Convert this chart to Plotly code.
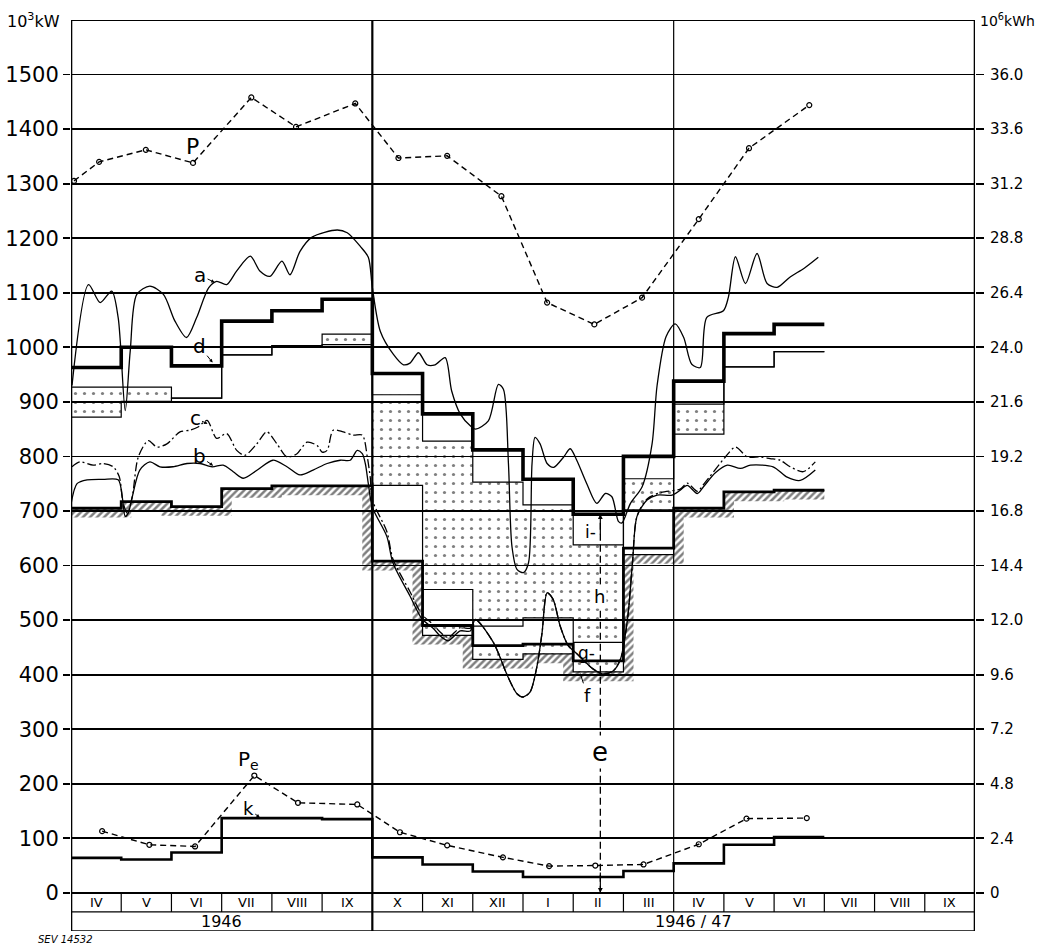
import plotly.graph_objects as go

# ------------------------------------------------------------------ data
month_labels = ["IV", "V", "VI", "VII", "VIII", "IX", "X", "XI", "XII",
                "I", "II", "III", "IV", "V", "VI", "VII", "VIII", "IX"]
year_labels = ["1946", "1946 / 47"]
year_centers = [3.0, 12.4]
kw_ticks = [0, 100, 200, 300, 400, 500, 600, 700, 800, 900, 1000, 1100, 1200, 1300, 1400, 1500]
kwh_ticktext = ["0", "2.4", "4.8", "7.2", "9.6", "12.0", "14.4", "16.8", "19.2",
                "21.6", "24.0", "26.4", "28.8", "31.2", "33.6", "36.0"]
kwh_per_kw = 0.024

# monthly step levels (10^3 kW), IV 1946 ... VI 1947
d_levels = [963, 1000, 966, 1048, 1067, 1088, 952, 878, 812, 758, 694, 800, 938, 1025, 1042]
i_bottom = [927, 927, 907, 986, 1003, 1024, 913, 828, 753, 711, 638, 759, 896, 964, 992]
h_bottom = [872, 901, 907, 986, 1003, 1005, 747, 556, 489, 504, 459, 702, 841, 964, 992]
g_bottom = [705, 717, 708, 741, 746, 746, 608, 490, 453, 456, 425, 632, 705, 735, 738]
f_bottom = [705, 717, 708, 741, 746, 746, 608, 472, 428, 438, 405, 620, 705, 735, 738]
k_levels = [64, 61, 74, 137, 137, 135, 65, 52, 39, 29, 29, 40, 54, 88, 102]

# monthly peaks (month position, 10^3 kW)
P_month = [0.06, 0.56, 1.49, 2.43, 3.59, 4.48, 5.66, 6.52, 7.49, 8.57, 9.48, 10.42, 11.37, 12.5, 13.5, 14.7]
P_value = [1305, 1340, 1362, 1338, 1458, 1404, 1447, 1347, 1351, 1277, 1082, 1042, 1091, 1235, 1365, 1444]
Pe_month = [0.62, 1.56, 2.47, 3.65, 4.52, 5.7, 6.55, 7.49, 8.6, 9.52, 10.44, 11.4, 12.5, 13.45, 14.65]
Pe_value = [113, 88, 85, 215, 165, 162, 111, 87, 65, 49, 50, 52, 89, 136, 137]

# daily curves
a_month = [0.02, 0.35, 0.58, 0.81, 0.94, 1.08, 1.18, 1.31, 1.57, 1.84, 2.07, 2.30, 2.50, 2.74, 2.90,
           3.10, 3.30, 3.57, 3.76, 3.96, 4.20, 4.36, 4.56, 4.80, 5.30, 5.50, 5.76, 5.92, 6.0,
           6.16, 6.42, 6.62, 6.75, 6.92, 7.09, 7.25, 7.45, 7.58, 7.75, 7.95, 8.05, 8.31, 8.51,
           8.61, 8.71, 8.78, 8.88, 9.01, 9.11, 9.18, 9.24, 9.34, 9.48, 9.61, 9.81, 9.94, 10.07,
           10.27, 10.47, 10.64, 10.77, 10.90, 10.97, 11.14, 11.37, 11.57, 11.67, 11.85, 12.03,
           12.20, 12.36, 12.53, 12.66, 12.99, 13.09, 13.23, 13.43, 13.66, 13.86, 14.06, 14.32,
           14.6, 14.88]
a_value = [930, 1115, 1082, 1103, 1054, 884, 994, 1097, 1112, 1097, 1048, 1018, 1054, 1109, 1121,
           1115, 1140, 1167, 1140, 1130, 1158, 1133, 1176, 1202, 1215, 1210, 1185, 1165, 1110,
           1029, 987, 968, 971, 990, 968, 968, 981, 920, 878, 856, 850, 865, 932,
           923, 787, 635, 593, 587, 605, 787, 835, 823, 787, 780, 799, 814, 793,
           750, 714, 732, 726, 681, 678, 714, 744, 823, 930, 1020, 1043,
           1018, 969, 963, 1055, 1067, 1092, 1166, 1117, 1172, 1117, 1110, 1129,
           1145, 1165]

b_month = [0.0, 0.12, 0.32, 0.64, 0.94, 1.02, 1.08, 1.14, 1.22, 1.37, 1.57, 1.77, 2.03, 2.31,
           2.57, 2.81, 3.03, 3.23, 3.43, 3.71, 4.02, 4.30, 4.56, 4.82, 5.10, 5.36, 5.56, 5.70,
           5.80, 5.86, 5.92, 6.0, 6.29, 6.41, 6.75, 6.99, 7.21, 7.35, 7.51, 7.75, 7.95, 8.05,
           8.41, 8.69, 8.88, 9.00, 9.14, 9.28, 9.38, 9.48, 9.60, 9.74, 9.90, 10.04, 10.40, 10.60,
           10.80, 10.94, 11.08, 11.18, 11.27, 11.47, 11.67, 11.97, 12.13, 12.27, 12.47, 12.59,
           12.83, 13.07, 13.33, 13.53, 13.98, 14.26, 14.52, 14.82]
b_value = [712, 750, 757, 758, 757, 726, 690, 696, 726, 775, 790, 781, 781, 787,
           787, 781, 784, 772, 760, 775, 793, 781, 766, 775, 787, 793, 793, 811,
           805, 787, 750, 707, 653, 605, 544, 502, 485, 471, 462, 480, 480, 501,
           459, 398, 365, 359, 368, 416, 477, 550, 538, 489, 453, 441, 410, 401,
           407, 428, 501, 605, 690, 720, 729, 729, 738, 747, 732, 744,
           770, 784, 778, 784, 781, 762, 756, 775]

c_month = [0.02, 0.18, 0.44, 0.64, 0.84, 0.96, 1.04, 1.12, 1.22, 1.34, 1.54, 1.71, 1.91, 2.17,
           2.37, 2.53, 2.71, 2.90, 3.10, 3.30, 3.46, 3.70, 3.90, 4.10, 4.30, 4.50, 4.70, 4.90,
           5.0, 5.10, 5.22, 5.42, 5.62, 5.80, 5.90, 5.96, 6.0, 6.29, 6.41, 6.75, 6.99, 7.21,
           7.35, 7.51, 7.75, 7.95, 8.05, 8.41, 8.69, 8.88, 9.00, 9.14, 9.28, 9.38, 9.48, 9.60,
           9.74, 9.90, 10.04, 10.40, 10.60, 10.80, 10.94, 11.08, 11.18, 11.27, 11.47, 11.75,
           12.13, 12.27, 12.47, 12.59, 13.03, 13.23, 13.47, 13.73, 13.92, 14.12, 14.32, 14.58,
           14.82]
c_value = [781, 790, 784, 787, 781, 763, 714, 696, 726, 799, 829, 817, 823, 845,
           848, 854, 866, 833, 842, 811, 802, 823, 845, 823, 799, 805, 826, 820,
           808, 811, 848, 845, 839, 839, 799, 760, 720, 662, 612, 552, 510, 492,
           478, 468, 486, 485, 501, 459, 398, 365, 359, 368, 416, 477, 550, 538,
           489, 453, 441, 410, 401, 407, 428, 501, 605, 690, 722, 734,
           740, 751, 736, 748, 799, 817, 799, 799, 796, 793, 781, 772,
           790]

# ------------------------------------------------------------------ helpers
FONT = "DejaVu Sans"
n_steps = len(d_levels)


def step_xy(levels):
    xs, ys = [], []
    for i, v in enumerate(levels):
        xs += [i, i + 1]
        ys += [v, v]
    return xs, ys


def band(upper, lower):
    ux, uy = step_xy(upper)
    lx, ly = step_xy(lower)
    return ux + lx[::-1], uy + ly[::-1]


def hatch_band(levels, dv, dx):
    n = len(levels)
    tx, ty = step_xy(levels)
    xb = [0.0]
    for j in range(1, n):
        if levels[j] > levels[j - 1]:
            xb.append(j + dx)
        elif levels[j] < levels[j - 1]:
            xb.append(j - dx)
        else:
            xb.append(float(j))
    xb.append(float(n))
    bx, by = [], []
    for i in range(n):
        bx += [xb[i], xb[i + 1]]
        by += [levels[i] - dv, levels[i] - dv]
    return tx + bx[::-1], ty + by[::-1]


step_x = list(range(n_steps + 1))


def step_y(levels):
    return list(levels) + [levels[-1]]


fig = go.Figure()

# hatching under the lowest step line
hx, hy = hatch_band(f_bottom, 17, 0.2)
fig.add_trace(go.Scatter(
    x=hx, y=hy, mode="lines", fill="toself", line=dict(width=0, color="rgba(0,0,0,0)"),
    fillcolor="rgba(0,0,0,0)",
    fillpattern=dict(shape="/", size=5, solidity=0.5, fgcolor="black", bgcolor="rgba(0,0,0,0)"),
    hoverinfo="skip"))

# dotted areas
for up, lo in [(i_bottom, h_bottom), (g_bottom, f_bottom)]:
    bx, by = band(up, lo)
    fig.add_trace(go.Scatter(
        x=bx, y=by, mode="lines", fill="toself", line=dict(width=0, color="rgba(0,0,0,0)"),
        fillcolor="rgba(0,0,0,0)",
        fillpattern=dict(shape=".", size=9, solidity=0.1, fgcolor="black", bgcolor="rgba(0,0,0,0)"),
        hoverinfo="skip"))

# thin step lines
for lv in [i_bottom, h_bottom, f_bottom]:
    fig.add_trace(go.Scatter(x=step_x, y=step_y(lv), mode="lines", line_shape="hv",
                             line=dict(color="black", width=1.2), hoverinfo="skip"))

# thick step lines
fig.add_trace(go.Scatter(x=step_x, y=step_y(g_bottom), mode="lines", line_shape="hv",
                         line=dict(color="black", width=2.8), hoverinfo="skip"))
fig.add_trace(go.Scatter(x=step_x, y=step_y(d_levels), mode="lines", line_shape="hv",
                         line=dict(color="black", width=3.6), hoverinfo="skip"))
fig.add_trace(go.Scatter(x=step_x, y=step_y(k_levels), mode="lines", line_shape="hv",
                         line=dict(color="black", width=2.6), hoverinfo="skip"))

# daily curves
fig.add_trace(go.Scatter(x=a_month, y=a_value, mode="lines", line_shape="spline",
                         line=dict(color="black", width=1.3, smoothing=0.8), hoverinfo="skip"))
fig.add_trace(go.Scatter(x=b_month, y=b_value, mode="lines", line_shape="spline",
                         line=dict(color="black", width=1.3, smoothing=0.8), hoverinfo="skip"))
fig.add_trace(go.Scatter(x=c_month, y=c_value, mode="lines", line_shape="spline",
                         line=dict(color="black", width=1.3, smoothing=0.8, dash="9px,3px,2px,3px"),
                         hoverinfo="skip"))

# peaks
for mx, vy in [(P_month, P_value), (Pe_month, Pe_value)]:
    fig.add_trace(go.Scatter(x=mx, y=vy, mode="lines+markers",
                             line=dict(color="black", width=1.4, dash="6px,4px"),
                             marker=dict(symbol="circle-open", size=5, color="black", line=dict(width=1.2)),
                             hoverinfo="skip"))

# e : dashed vertical through February
e_month = 10 + 0.54
fig.add_trace(go.Scatter(x=[e_month, e_month], y=[0, d_levels[10]], mode="lines",
                         line=dict(color="black", width=1.3, dash="7px,4px"), hoverinfo="skip"))

# invisible trace to carry the right axis
fig.add_trace(go.Scatter(x=[0], y=[0], yaxis="y2", mode="markers",
                         marker=dict(opacity=0), hoverinfo="skip"))

# ------------------------------------------------------------------ frame shapes
shapes = []


def vline(x, y0, y1, w):
    shapes.append(dict(type="line", xref="x", yref="y", x0=x, x1=x, y0=y0, y1=y1,
                       line=dict(color="black", width=w)))


def hline(y, w):
    shapes.append(dict(type="line", xref="x", yref="y", x0=0, x1=len(month_labels), y0=y, y1=y,
                       line=dict(color="black", width=w)))


vline(0, -70, 1600, 2.6)
vline(len(month_labels), -70, 1600, 2.6)
vline(6, -70, 1600, 2.2)
vline(12, -35, 1600, 1.2)
for j in range(1, len(month_labels)):
    if j not in (6, 12):
        vline(j, -35, 0, 1.2)
hline(1600, 1.8)
hline(0, 1.8)
hline(-35, 1.2)
hline(-70, 1.4)

# ------------------------------------------------------------------ annotations
ann = []
for j, m in enumerate(month_labels):
    ann.append(dict(x=j + 0.5, y=-17.5, xref="x", yref="y", text=m, showarrow=False,
                    font=dict(family=FONT, size=13, color="black")))
for t, xc in zip(year_labels, year_centers):
    ann.append(dict(x=xc, y=-53, xref="x", yref="y", text=t, showarrow=False,
                    font=dict(family=FONT, size=16, color="black")))


def label(x, y, t, size, **kw):
    d = dict(x=x, y=y, xref="x", yref="y", text=t, showarrow=False,
             font=dict(family=FONT, size=size, color="black"))
    d.update(kw)
    ann.append(d)


def arrow_label(tx, ty, px, py, t, size, head=2):
    ann.append(dict(x=px, y=py, xref="x", yref="y", ax=tx, ay=ty, axref="x", ayref="y",
                    text=t, showarrow=True, arrowhead=head, arrowsize=0.7, arrowwidth=1,
                    arrowcolor="black", standoff=0,
                    font=dict(family=FONT, size=size, color="black")))


label(2.41, 1368, "P", 22)
arrow_label(2.57, 1132, 2.86, 1119, "a", 20)
arrow_label(2.55, 1003, 2.82, 972, "d", 20)
arrow_label(2.47, 870, 2.72, 860, "c", 20)
arrow_label(2.55, 801, 2.83, 783, "b", 20)
label(3.53, 243, "P<sub>e</sub>", 20)
arrow_label(3.53, 154, 3.76, 138, "k", 18)
label(10.34, 662, "i-", 17)
label(10.52, 543, "h", 18, bgcolor="white")
label(10.27, 440, "g-", 17)
arrow_label(10.28, 362, 10.14, 402, "f", 18, head=0)
label(e_month, 259, "e", 26, bgcolor="white")
ann.append(dict(x=e_month, y=0, xref="x", yref="y", ax=e_month, ay=40, axref="x", ayref="y",
                text="", showarrow=True, arrowhead=2, arrowsize=0.8, arrowwidth=1.2, arrowcolor="black"))
ann.append(dict(x=e_month, y=d_levels[10], xref="x", yref="y", ax=e_month, ay=d_levels[10] - 40,
                axref="x", ayref="y", text="", showarrow=True, arrowhead=2, arrowsize=0.8,
                arrowwidth=1.2, arrowcolor="black"))

ann.append(dict(x=-0.042, y=1.0, xref="paper", yref="paper", text="10<sup>3</sup>kW", showarrow=False,
                font=dict(family=FONT, size=16, color="black"), xanchor="center", yanchor="middle"))
ann.append(dict(x=1.068, y=1.0, xref="paper", yref="paper", text="10<sup>6</sup>kWh", showarrow=False,
                font=dict(family=FONT, size=14, color="black"), xanchor="right", yanchor="middle",
                borderpad=0))
ann.append(dict(x=-0.0376, y=-0.0165, xref="paper", yref="paper", text="<i>SEV 14532</i>",
                showarrow=False, font=dict(family=FONT, size=10, color="black"),
                xanchor="left", yanchor="bottom", borderpad=0))

fig.update_layout(
    width=1045, height=947,
    margin=dict(l=71, r=70, t=20, b=16, autoexpand=False),
    paper_bgcolor="white", plot_bgcolor="white",
    showlegend=False, hovermode=False,
    shapes=shapes, annotations=ann,
    xaxis=dict(range=[0, len(month_labels)], visible=False, fixedrange=True, automargin=False),
    yaxis=dict(range=[-70, 1600], tickvals=kw_ticks, ticktext=[str(v) for v in kw_ticks],
               showgrid=True, gridcolor="black", gridwidth=1.8, zeroline=False, showline=False,
               ticks="outside", ticklen=7, tickwidth=1.8, tickcolor="black", automargin=False,
               tickfont=dict(family=FONT, size=21, color="black")),
    yaxis2=dict(range=[-70 * kwh_per_kw, 1600 * kwh_per_kw], overlaying="y", side="right",
                tickvals=[v * kwh_per_kw for v in kw_ticks], ticktext=kwh_ticktext,
                showgrid=False, zeroline=False, showline=False, automargin=False,
                ticks="outside", ticklen=8, tickwidth=1.8, tickcolor="black",
                ticklabelstandoff=3,
                tickfont=dict(family=FONT, size=15, color="black")),
)

fig.write_html("out.html", config={"displayModeBar": False, "staticPlot": True},
               post_script="document.body.style.margin='0px';document.body.style.overflow='hidden';")
